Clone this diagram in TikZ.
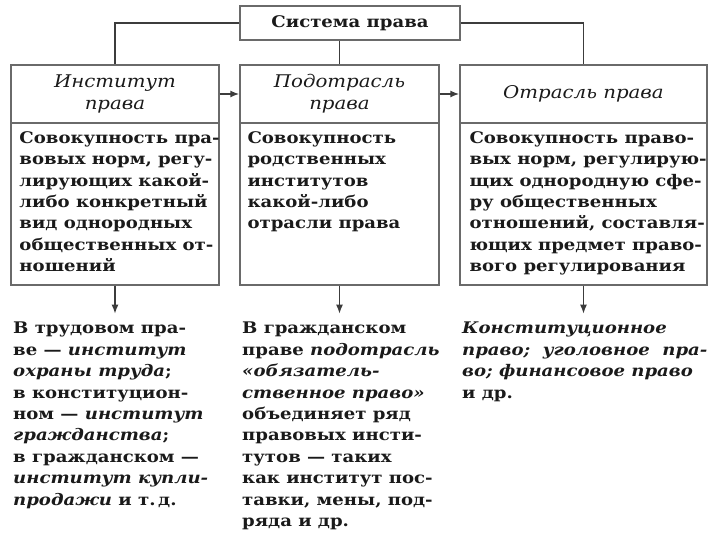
\documentclass[tikz,border=0pt]{standalone}
\usepackage{fontspec}
\setmainfont{DejaVu Serif}[FakeStretch=1.13]
\usepackage{xcolor}
\definecolor{framecolor}{HTML}{6A6A6A}
\definecolor{linecolor}{HTML}{3C3C3C}
\definecolor{inkcolor}{HTML}{1A1A1A}
\usetikzlibrary{arrows.meta, positioning, calc}

\tikzset{
  box/.style={draw=framecolor, line width=1.4pt, inner sep=0pt},
  headbox/.style={box, minimum height=58pt, align=center, text=inkcolor,
    font=\fontsize{17.5}{22}\selectfont\itshape},
  bodybox/.style={box, minimum height=162pt},
  bodytext/.style={inner sep=0pt, align=left, text=inkcolor,
    font=\fontsize{16}{21.4}\selectfont\bfseries},
  link/.style={draw=linecolor, line width=1.2pt},
  arr/.style={link, line width=1.5pt, -{Latex[length=9pt, width=7pt]}}
}

\begin{document}
\begin{tikzpicture}[x=1pt, y=-1pt]
  \useasboundingbox (0,0) rectangle (720,540);
  % verkh
  \node[box, minimum width=220pt, minimum height=34pt, text=inkcolor,
    font=\fontsize{16}{20}\selectfont\bfseries] (sys) at (350,23) {Система права};
  % zagolovki
  \node[headbox, minimum width=208pt] (inst) at (115,94) {Институт\\права};
  \node[headbox, minimum width=199pt] (podotr) at (339.5,94) {Подотрасль\\права};
  \node[headbox, minimum width=247pt] (otr) at (583.5,94) {Отрасль права};
  % opredeleniya
  \node[bodybox, minimum width=208pt] (instbody) at (115,204) {};
  \node[bodybox, minimum width=199pt] (podbody) at (339.5,204) {};
  \node[bodybox, minimum width=247pt] (otrbody) at (583.5,204) {};
  \node[bodytext, below right=9pt and 9pt of instbody.north west] (insttext)
    {Совокупность пра-\\вовых норм, регу-\\лирующих какой-\\либо конкретный\\вид однородных\\общественных от-\\ношений};
  \node[bodytext, below right=9pt and 8pt of podbody.north west] (podtext)
    {Совокупность\\родственных\\институтов\\какой-либо\\отрасли права};
  \node[bodytext, below right=9pt and 10pt of otrbody.north west] (otrtext)
    {Совокупность право-\\вых норм, регулирую-\\щих однородную сфе-\\ру общественных\\отношений, составля-\\ющих предмет право-\\вого регулирования};
  % primery
  \node[bodytext, anchor=north west] (instex) at (13,322)
    {В трудовом пра-\\ве --- \textit{институт}\\\textit{охраны труда};\\в конституцион-\\ном --- \textit{институт}\\\textit{гражданства};\\в гражданском ---\\\textit{институт купли-}\\\textit{продажи} и т.\,д.};
  \node[bodytext, anchor=north west] (podex) at (242,322)
    {В гражданском\\праве \textit{подотрасль}\\\textit{«обязатель-}\\\textit{ственное право»}\\объединяет ряд\\правовых инсти-\\тутов --- таких\\как институт пос-\\тавки, мены, под-\\ряда и др.};
  \node[bodytext, anchor=north west] (otrex) at (462,322)
    {\textit{Конституционное}\\\textit{право;\ \ уголовное\ \ пра-}\\\textit{во; финансовое право}\\и др.};
  % svyazi
  \draw[link] (sys.west) -| (inst.north);
  \draw[link] (sys.east) -| (otr.north);
  \draw[link] (sys.south -| podotr.north) -- (podotr.north);
  \draw[arr] (inst.east) -- (podotr.west);
  \draw[arr] (podotr.east) -- (otr.west);
  \draw[arr] (instbody.south) -- ++(0,28);
  \draw[arr] (podbody.south) -- ++(0,28);
  \draw[arr] (otrbody.south) -- ++(0,28);
\end{tikzpicture}
\end{document}
